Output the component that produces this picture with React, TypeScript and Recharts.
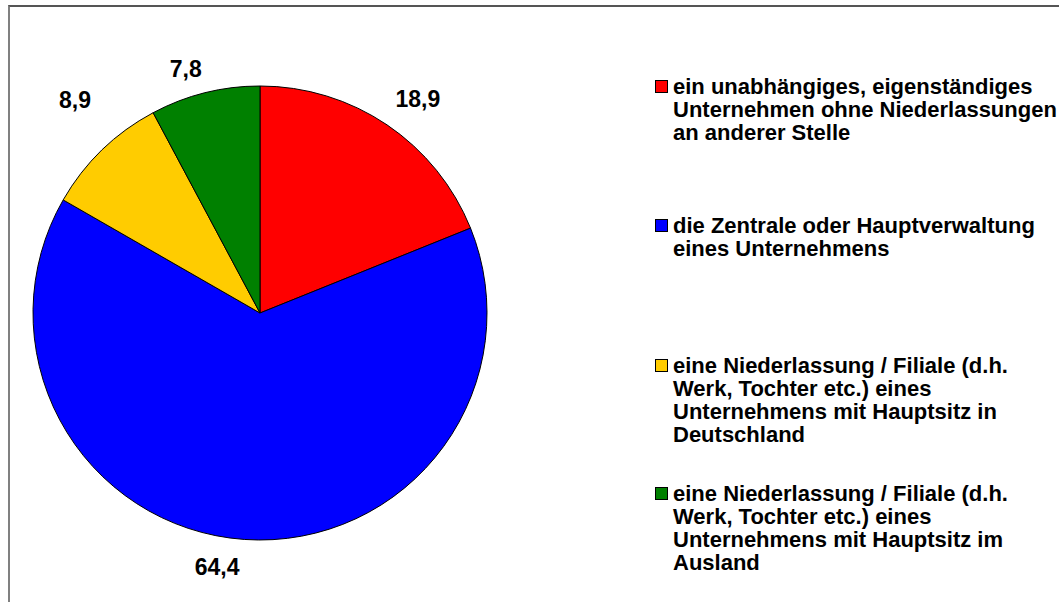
import { PieChart, Pie, Cell, Legend } from "recharts";

// Anteile in Prozent, im Uhrzeigersinn ab 12 Uhr
const categories = [
    "ein unabhängiges, eigenständiges\nUnternehmen ohne Niederlassungen\nan anderer Stelle",
    "die Zentrale oder Hauptverwaltung\neines Unternehmens",
    "eine Niederlassung / Filiale (d.h.\nWerk, Tochter etc.) eines\nUnternehmens mit Hauptsitz in\nDeutschland",
    "eine Niederlassung / Filiale (d.h.\nWerk, Tochter etc.) eines\nUnternehmens mit Hauptsitz im\nAusland",
];
const shares = [18.9, 64.4, 8.9, 7.8];
const colors = ["#ff0000", "#0000ff", "#ffcc00", "#008000"];

const data = categories.map((name, i) => ({ name, value: shares[i] }));

const FONT = '"Liberation Sans", Arial, sans-serif';
const RADIAN = Math.PI / 180;

// label placement tweaks (gap outside the pie, angular turn) - labels were hand placed in the original
const labelGap = [39, 31, 55, 28];
const labelTurn = [-2.4, -5.6, -3.1, 2.9];

// top of each legend entry
const legendTops = [75, 214, 354, 482];
const LINE_H = 23;

const renderLabel = (props: any) => {
    const { cx, cy, midAngle, outerRadius, index, value } = props;
    const r = outerRadius + labelGap[index];
    const a = (midAngle + labelTurn[index]) * RADIAN;
    const x = cx + r * Math.cos(a);
    const y = cy - r * Math.sin(a);
    return (
        <text
            x={x}
            y={y}
            textAnchor="middle"
            dominantBaseline="central"
            fontFamily={FONT}
            fontWeight="bold"
            fontSize={23}
            fill="#000"
        >
            {Number(value).toFixed(1).replace(".", ",")}
        </text>
    );
};

const LegendContent = () => (
    <div style={{ position: "relative", width: 1059, height: 602 }}>
        {categories.map((c, i) => (
            <div key={i}>
                <div
                    style={{
                        position: "absolute",
                        left: 655,
                        top: legendTops[i] + LINE_H / 2 - 6.5,
                        width: 11,
                        height: 11,
                        border: "1px solid #000",
                        background: colors[i],
                    }}
                />
                <div
                    style={{
                        position: "absolute",
                        left: 673,
                        top: legendTops[i],
                        whiteSpace: "pre",
                        fontFamily: FONT,
                        fontWeight: "bold",
                        fontSize: 22,
                        lineHeight: `${LINE_H}px`,
                        color: "#000",
                    }}
                >
                    {c}
                </div>
            </div>
        ))}
    </div>
);

export default function App() {
    return (
        <div style={{ position: "absolute", left: 0, top: 0, width: 1059, height: 602, background: "#fff", overflow: "hidden" }}>
            <div
                style={{
                    position: "absolute",
                    left: 8,
                    top: 5,
                    width: 1100,
                    height: 700,
                    borderTop: "2px solid #555",
                    borderLeft: "2px solid #808080",
                }}
            />
            <div style={{ position: "absolute", left: 0, top: 0 }}>
                <PieChart width={1059} height={602} margin={{ top: 0, right: 0, bottom: 0, left: 0 }}>
                    <Pie
                        data={data}
                        dataKey="value"
                        nameKey="name"
                        cx={260}
                        cy={313}
                        outerRadius={227}
                        startAngle={90}
                        endAngle={-270}
                        stroke="#000"
                        strokeWidth={1}
                        label={renderLabel}
                        labelLine={false}
                        isAnimationActive={false}
                    >
                        {data.map((d, i) => (
                            <Cell key={d.name} fill={colors[i]} />
                        ))}
                    </Pie>
                    <Legend
                        layout="vertical"
                        align="right"
                        verticalAlign="top"
                        content={LegendContent}
                        wrapperStyle={{ position: "absolute", left: 0, top: 0, width: 1059, height: 602 }}
                    />
                </PieChart>
            </div>
        </div>
    );
}
